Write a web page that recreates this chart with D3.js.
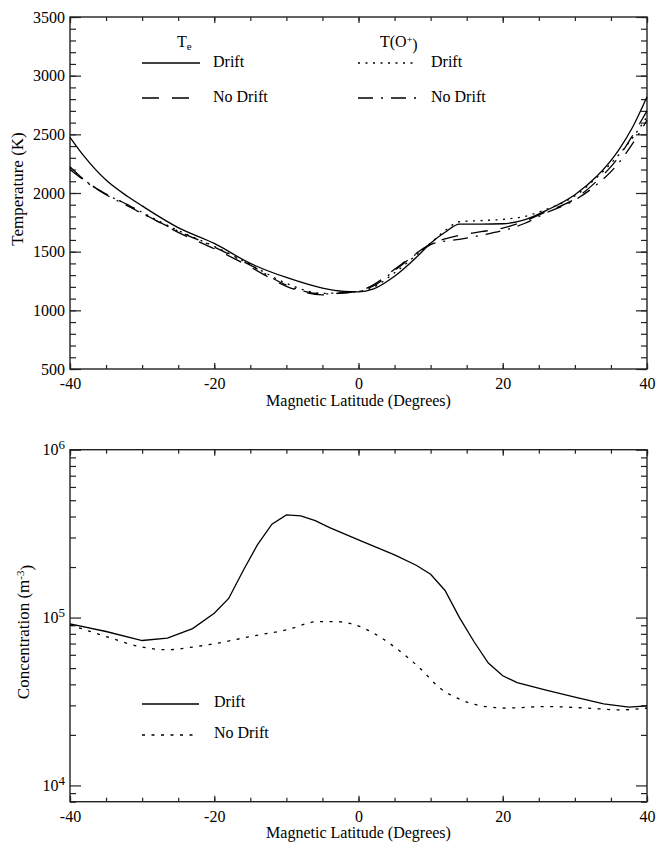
<!DOCTYPE html>
<html>
<head>
<meta charset="utf-8">
<script src="https://cdn.jsdelivr.net/npm/d3@7"></script>
<style>
  body { margin: 0; background: #fff; }
  svg text { font-family: 'Liberation Serif', 'DejaVu Serif', serif !important; fill: #000; }
</style>
</head>
<body>
<svg id="chart" width="656" height="843" font-family="Liberation Serif, serif"></svg>
<script>
// ---- top panel: temperatures (K) vs magnetic latitude ----
const latT = [-40, -38, -35, -32, -30, -25, -20, -15, -10, -5, -2, 0, 2, 5, 8, 10, 12, 14, 17, 20, 23, 26, 30, 33, 36, 38, 40];
const teDrift = [2475, 2310, 2110, 1970, 1890, 1705, 1570, 1400, 1280, 1190, 1162, 1158, 1180, 1290, 1450, 1572, 1665, 1735, 1735, 1738, 1770, 1850, 1985, 2140, 2360, 2560, 2820];
const teNoDrift = [2225, 2111, 1990, 1900, 1830, 1665, 1525, 1370, 1205, 1132, 1150, 1165, 1215, 1350, 1485, 1565, 1610, 1640, 1670, 1700, 1760, 1840, 1950, 2100, 2300, 2490, 2700];
const toDrift = [2215, 2110, 1990, 1900, 1835, 1680, 1545, 1390, 1230, 1145, 1150, 1160, 1195, 1320, 1470, 1575, 1680, 1755, 1765, 1775, 1800, 1860, 1975, 2130, 2320, 2470, 2650];
const toNoDrift = [2200, 2105, 1985, 1890, 1825, 1675, 1540, 1385, 1215, 1140, 1150, 1160, 1205, 1340, 1480, 1560, 1590, 1605, 1640, 1680, 1740, 1830, 1940, 2070, 2250, 2420, 2620];

// ---- bottom panel: concentration (m^-3) ----
const latNd = [-40, -35, -30, -26.5, -23, -20, -18, -16, -14, -12, -10, -8, -6, -4, 0, 5, 8, 10, 12, 14, 16, 18, 20, 22, 26, 30, 34, 37.5, 40];
const nDrift = [91700, 82600, 73000, 75400, 86000, 106000, 130000, 190000, 272000, 360000, 409000, 403000, 378000, 343000, 290000, 236000, 205000, 181000, 145000, 100000, 72000, 53600, 45000, 41000, 37000, 33600, 30600, 29300, 29800];
const latNn = [-40, -35, -30, -26.5, -23, -19.5, -15, -10, -5.5, -3.3, -0.5, 2.5, 5.5, 8.5, 11.3, 14.2, 17, 20.5, 25.8, 31.6, 36.3, 40];
const nNoDrift = [90600, 77100, 66700, 64300, 66700, 70400, 77100, 84500, 94700, 94700, 90600, 78900, 64300, 50000, 38000, 32400, 29800, 28900, 29500, 28900, 28200, 28900];

const xTicks = [-40, -20, 0, 20, 40];
const xMinor = d3.range(-40, 41, 5);
const tTicks = [500, 1000, 1500, 2000, 2500, 3000, 3500];
const tMinor = d3.range(500, 3501, 100);
const nTicks = [1e4, 1e5, 1e6];
const nMinor = [8000, 9000].concat(d3.range(2, 10).map(d => d * 1e4), d3.range(2, 10).map(d => d * 1e5));

const svg = d3.select("#chart");
const FS = 16;
const FONT = "Liberation Serif, serif";

const x = d3.scaleLinear().domain([-40, 40]).range([70, 647]);
const yT = d3.scaleLinear().domain([500, 3500]).range([369, 17]);
const yN = d3.scaleLog().domain([8000, 1e6]).range([801.7, 449.7]);

function frame(y, major, minor, fmt, yTitle, titleY, titleX) {
  const g = svg.append("g");
  const [b, t] = y.range();
  const [l, r] = x.range();

  const ax = (axis, tx, ty) => g.append("g").attr("transform", `translate(${tx},${ty})`).call(axis);
  ax(d3.axisBottom(x).tickValues(xTicks).tickSize(-6).tickPadding(9).tickFormat(d => String(d)), 0, b);
  ax(d3.axisBottom(x).tickValues(xMinor).tickSize(-4).tickFormat(""), 0, b);
  ax(d3.axisTop(x).tickValues(xTicks).tickSize(-6).tickFormat(""), 0, t);
  ax(d3.axisTop(x).tickValues(xMinor).tickSize(-4).tickFormat(""), 0, t);
  const left = ax(d3.axisLeft(y).tickValues(major).tickSize(-11).tickPadding(5).tickFormat(fmt || (d => String(d))), l, 0);
  ax(d3.axisLeft(y).tickValues(minor).tickSize(-6).tickFormat(""), l, 0);
  ax(d3.axisRight(y).tickValues(major).tickSize(-11).tickFormat(""), r, 0);
  ax(d3.axisRight(y).tickValues(minor).tickSize(-6).tickFormat(""), r, 0);

  g.selectAll("g").attr("font-family", FONT).attr("font-size", FS);
  g.selectAll(".domain").remove();
  g.selectAll(".tick line").attr("stroke", "#222").attr("stroke-width", 1.2);
  g.append("rect").attr("x", l).attr("y", t).attr("width", r - l).attr("height", b - t)
    .attr("fill", "none").attr("stroke", "#222").attr("stroke-width", 1.4);

  g.append("text").attr("x", (l + r) / 2).attr("y", titleX).attr("text-anchor", "middle")
    .attr("font-size", FS).text("Magnetic Latitude (Degrees)");
  const yt = g.append("text").attr("transform", `translate(${titleY[0]},${titleY[1]}) rotate(-90)`)
    .attr("text-anchor", "middle").attr("font-size", 17);
  yTitle(yt);
  return left;
}

// ---- top panel ----
frame(yT, tTicks, tMinor, null, t => t.text("Temperature (K)"), [23, 189], 406);

const lineT = d3.line().x(d => x(d[0])).y(d => yT(d[1])).curve(d3.curveMonotoneX);
const seriesT = [
  { v: teDrift, dash: null },
  { v: teNoDrift, dash: "17,13" },
  { v: toDrift, dash: "2,5.5" },
  { v: toNoDrift, dash: "15,8,2,8" }
];
seriesT.forEach(s => {
  svg.append("path").datum(latT.map((d, i) => [d, s.v[i]]))
    .attr("d", lineT).attr("fill", "none").attr("stroke", "#000").attr("stroke-width", 1.3)
    .attr("stroke-dasharray", s.dash);
});

// top legend
const leg = svg.append("g");
const te = leg.append("text").attr("x", 177).attr("y", 47).attr("font-size", FS);
te.append("tspan").text("T");
te.append("tspan").attr("dy", "0.3em").attr("font-size", 11).text("e");
const to = leg.append("text").attr("x", 380).attr("y", 47).attr("font-size", FS);
to.append("tspan").text("T(O");
to.append("tspan").attr("dy", "-0.45em").attr("font-size", 10).text("+");
to.append("tspan").attr("dy", "0.45em").text(")");

const legItems = [
  { x0: 142, x1: 200, y: 63, dash: null, tx: 213, label: "Drift" },
  { x0: 142, x1: 200, y: 98, dash: "17,13", tx: 213, label: "No Drift" },
  { x0: 358, x1: 417, y: 63, dash: "2,5.5", tx: 431, label: "Drift" },
  { x0: 358, x1: 417, y: 98, dash: "15,8,2,8", tx: 431, label: "No Drift" }
];
legItems.forEach(d => {
  leg.append("line").attr("x1", d.x0).attr("x2", d.x1).attr("y1", d.y).attr("y2", d.y)
    .attr("stroke", "#000").attr("stroke-width", 1.3).attr("stroke-dasharray", d.dash);
  leg.append("text").attr("x", d.tx).attr("y", d.y + 4).attr("font-size", FS).text(d.label);
});

// ---- bottom panel ----
const leftN = frame(yN, nTicks, nMinor, () => "", t => {
  t.append("tspan").text("Concentration (m");
  t.append("tspan").attr("dy", "-0.45em").attr("font-size", 11).text("-3");
  t.append("tspan").attr("dy", "0.45em").text(")");
}, [29, 632], 838);
leftN.selectAll(".tick text").each(function (d) {
  const t = d3.select(this);
  t.append("tspan").text("10");
  t.append("tspan").attr("dy", "-0.5em").attr("font-size", 13).text(Math.round(Math.log10(d)));
});

const lineN = d3.line().x(d => x(d[0])).y(d => yN(d[1]));
svg.append("path").datum(latNd.map((d, i) => [d, nDrift[i]]))
  .attr("d", lineN.curve(d3.curveLinear)).attr("fill", "none").attr("stroke", "#000").attr("stroke-width", 1.3);
svg.append("path").datum(latNn.map((d, i) => [d, nNoDrift[i]]))
  .attr("d", lineN.curve(d3.curveMonotoneX)).attr("fill", "none").attr("stroke", "#000").attr("stroke-width", 1.3)
  .attr("stroke-dasharray", "3,6.5");

const legN = svg.append("g");
[{ y: 704, dash: null, label: "Drift" }, { y: 735, dash: "3,6.5", label: "No Drift" }].forEach(d => {
  legN.append("line").attr("x1", 142).attr("x2", 199).attr("y1", d.y).attr("y2", d.y)
    .attr("stroke", "#000").attr("stroke-width", 1.3).attr("stroke-dasharray", d.dash);
  legN.append("text").attr("x", 214).attr("y", d.y + 3).attr("font-size", FS).text(d.label);
});
</script>
</body>
</html>
